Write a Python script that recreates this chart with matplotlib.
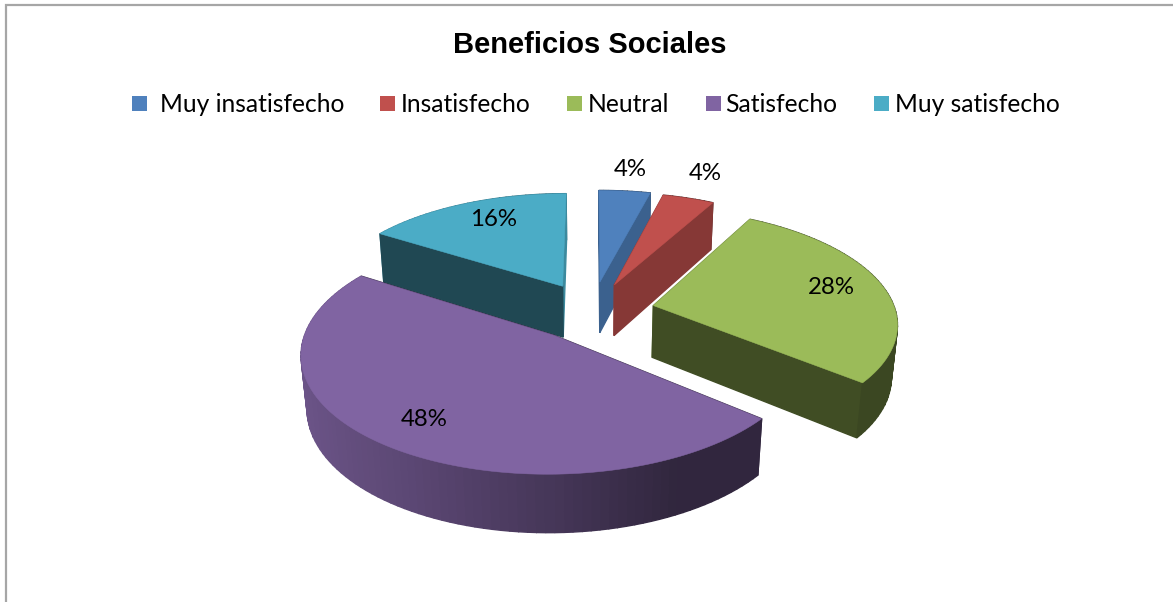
import numpy as np
import matplotlib
matplotlib.use("Agg")
import matplotlib.pyplot as plt
from matplotlib.colors import to_rgb
from matplotlib.patches import Rectangle

categories = ["Muy insatisfecho", "Insatisfecho", "Neutral", "Satisfecho", "Muy satisfecho"]
values = [4, 4, 28, 48, 16]
colors = ["#4F81BD", "#C0504D", "#9BBB59", "#8064A2", "#4BACC6"]
title = "Beneficios Sociales"

# pixel layout
legend_box_x = [132, 380, 567, 706, 874]
legend_text_x = [160, 401, 588, 725, 895]
label_pos = [(630, 169), (705, 173), (831, 287), (424, 419), (494, 219)]
draw_order = [4, 0, 1, 2, 3]

# fake 3d projection of the pie
cx, cy = 592, 311
rx, ry = 242, 112
height = 53
persp, persp_z = 0.14, 0.02
explode = [0.27, 0.26, 0.26, 0.26, 0.26]


def project(x, y, z):
    w = 1 + persp * y + persp_z * z
    return cx + rx * x / w, cy - ry * y / w + height * z / w


def shade(col, f):
    return tuple(c * f for c in to_rgb(col))


def rim_shade(theta):
    return np.interp(np.sin(theta), [-1, -0.5, 0, 0.45], [0.85, 0.72, 0.55, 0.38])


def wall_shade(theta):
    return np.interp(np.degrees(theta), [14.4, 28.8, 129.6, 302.4, 360], [0.75, 0.7, 0.41, 0.42, 0.8])


fig = plt.figure(figsize=(11.73, 6.02), dpi=100)
ax = fig.add_axes([0, 0, 1, 1])
ax.set_xlim(0, 1173)
ax.set_ylim(602, 0)
ax.axis("off")

ax.plot([6, 6, 1173], [602, 5, 5], color="#a6a6a6", lw=1.6, solid_joinstyle="miter")

edges = np.radians(np.concatenate([[0], np.cumsum(values)]) * 3.6)

for i in draw_order:
    a0, a1 = edges[i], edges[i + 1]
    mid = (a0 + a1) / 2
    ox, oy = explode[i] * np.sin(mid), explode[i] * np.cos(mid)
    t = np.linspace(a0, a1, max(int(values[i] * 2), 12))
    arc_x, arc_y = ox + np.sin(t), oy + np.cos(t)

    # side faces, far ones first
    faces = []
    for a in (a0, a1):
        qx = np.array([ox, ox + np.sin(a)])
        qy = np.array([oy, oy + np.cos(a)])
        faces.append((qy.mean(), qx, qy, shade(colors[i], wall_shade(a))))
    for k in range(len(t) - 1):
        qx, qy = arc_x[k:k + 2], arc_y[k:k + 2]
        faces.append((qy.mean(), qx, qy, shade(colors[i], rim_shade(t[k:k + 2].mean()))))
    faces.sort(key=lambda f: -f[0])

    for _, qx, qy, col in faces:
        x_top, y_top = project(qx, qy, 0)
        x_bot, y_bot = project(qx, qy, 1)
        ax.fill(np.r_[x_top, x_bot[::-1]], np.r_[y_top, y_bot[::-1]], facecolor=col, edgecolor=col, lw=1.0)

    # top face
    px, py = project(np.r_[ox, arc_x], np.r_[oy, arc_y], 0)
    ax.fill(px, py, facecolor=colors[i], edgecolor=colors[i], lw=0.4)

for v, (x, y) in zip(values, label_pos):
    ax.text(x, y, f"{v}%", ha="center", va="center", family="Lato", fontsize=17.3, color="black")

ax.text(590, 45, title, ha="center", va="center", family="Liberation Sans",
        fontweight="bold", fontsize=21, color="black")

for name, col, bx, tx in zip(categories, colors, legend_box_x, legend_text_x):
    ax.add_patch(Rectangle((bx, 96), 15, 15, facecolor=col, edgecolor="none"))
    ax.text(tx, 104, name, ha="left", va="center", family="Lato", fontsize=17.7, color="black")

fig.savefig("out.png", dpi=100)
